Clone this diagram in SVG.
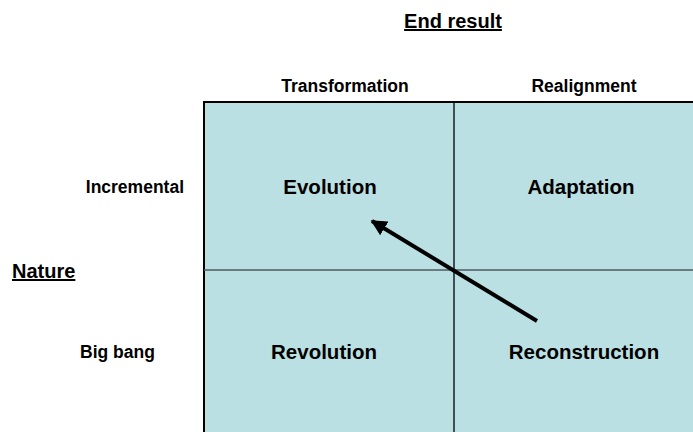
<svg xmlns="http://www.w3.org/2000/svg" width="693" height="432" viewBox="0 0 693 432">
<style>
text{font-family:"Liberation Sans",Arial,sans-serif;font-weight:bold;fill:#000}
.h{font-size:20px;text-decoration:underline}
.c{font-size:17.5px}
.q{font-size:20.5px;text-anchor:middle}
</style>
<defs>
<marker id="ah" viewBox="0 0 10 10" refX="9" refY="5" markerWidth="4" markerHeight="4" orient="auto" markerUnits="strokeWidth">
<path d="M0,0 L10,5 L0,10 z" fill="#000"/>
</marker>
</defs>
<g id="grid">
<rect x="204" y="102" width="500" height="340" fill="#BBE0E3"/>
<line x1="204" y1="102" x2="693" y2="102" stroke="#000" stroke-width="2"/>
<line x1="204" y1="101" x2="204" y2="432" stroke="#000" stroke-width="2"/>
<line x1="454" y1="102" x2="454" y2="432" stroke="#000" stroke-width="1.3"/>
<line x1="204" y1="270" x2="693" y2="270" stroke="#4F5B5E" stroke-width="1.6"/>
</g>
<g id="labels">
<text class="h" x="453" y="28" text-anchor="middle">End result</text>
<text class="h" x="12" y="278">Nature</text>
<text class="c" x="345" y="92" text-anchor="middle">Transformation</text>
<text class="c" x="584" y="92" text-anchor="middle">Realignment</text>
<text class="c" x="184" y="193" text-anchor="end">Incremental</text>
<text class="c" x="80" y="358">Big bang</text>
</g>
<g id="evolution"><text class="q" x="330" y="194">Evolution</text></g>
<g id="adaptation"><text class="q" x="581" y="194">Adaptation</text></g>
<g id="revolution"><text class="q" x="324" y="359">Revolution</text></g>
<g id="reconstruction"><text class="q" x="584" y="359">Reconstruction</text></g>
<g id="connectors">
<line x1="537" y1="321" x2="372" y2="221" stroke="#000" stroke-width="4" marker-end="url(#ah)"/>
</g>
</svg>
